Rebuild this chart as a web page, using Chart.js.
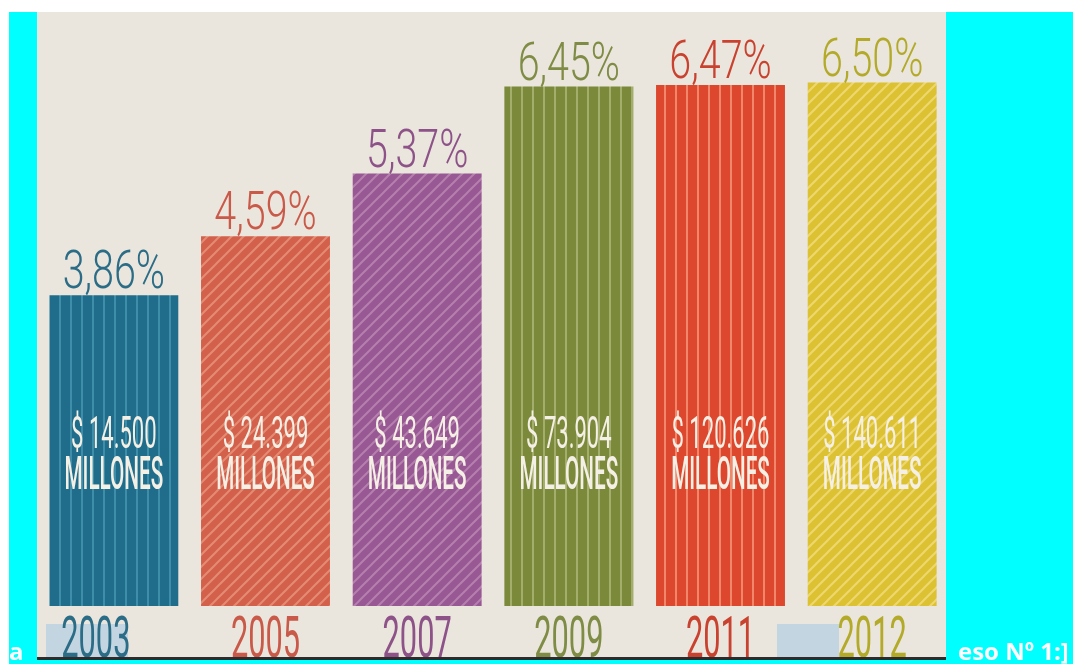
<!DOCTYPE html>
<html>
<head>
<meta charset="utf-8">
<script src="https://cdn.jsdelivr.net/npm/chart.js@4"></script>
<style>
  html, body { margin: 0; padding: 0; background: #fff; }
  #wrap { position: relative; width: 1073px; height: 664px; }
</style>
</head>
<body>
<div id="wrap"><canvas id="chart" width="1073" height="664"></canvas></div>
<script>
// Daten
const years = ["2003", "2005", "2007", "2009", "2011", "2012"];
const percents = [3.86, 4.59, 5.37, 6.45, 6.47, 6.5];
const percentLabels = ["3,86%", "4,59%", "5,37%", "6,45%", "6,47%", "6,50%"];
const amountLabels = ["$ 14.500", "$ 24.399", "$ 43.649", "$ 73.904", "$ 120.626", "$ 140.611"];
const unitLabel = "MILLONES";

// Farben
const baseColors = ["#1f6d8b", "#d3604b", "#985893", "#7b893b", "#dc472d", "#dcc232"];
const stripeColors = ["#3f8ea9", "#e48b73", "#b57fae", "#a3ae6c", "#f0866a", "#eed770"];
const stripeTypes = ["v", "d", "d", "v", "v", "d"];
const textColors = ["#2b6c86", "#c95a4a", "#8d5288", "#7f8c45", "#c8422f", "#b3aa2a"];

function makePattern(base, stripe, type) {
  const c = document.createElement("canvas");
  const s = type === "v" ? 11 : 12;
  c.width = s;
  c.height = s;
  const g = c.getContext("2d");
  g.fillStyle = base;
  g.fillRect(0, 0, s, s);
  g.strokeStyle = stripe;
  g.lineWidth = 2;
  if (type === "v") {
    g.beginPath();
    g.moveTo(5, 0);
    g.lineTo(5, s);
    g.stroke();
  } else {
    g.beginPath();
    g.moveTo(-2, s + 2); g.lineTo(s + 2, -2);
    g.moveTo(-2, 2); g.lineTo(2, -2);
    g.moveTo(s - 2, s + 2); g.lineTo(s + 2, s - 2);
    g.stroke();
  }
  return g.createPattern(c, "repeat");
}

const patterns = baseColors.map((b, i) => makePattern(b, stripeColors[i], stripeTypes[i]));

function condensedText(ctx, text, x, y, font, sx, color) {
  ctx.save();
  ctx.translate(x, y);
  ctx.scale(sx, 1);
  ctx.font = font;
  ctx.fillStyle = color;
  ctx.textAlign = "center";
  ctx.textBaseline = "alphabetic";
  ctx.fillText(text, 0, 0);
  ctx.restore();
}

// Hintergrund: Rahmen und Papier
const backgroundPlugin = {
  id: "paper",
  beforeDraw(chart) {
    const ctx = chart.ctx;
    ctx.save();
    ctx.fillStyle = "#ffffff";
    ctx.fillRect(0, 0, 1073, 664);
    ctx.fillStyle = "#00ffff";
    ctx.fillRect(9, 12, 1064, 652);
    ctx.fillStyle = "#ebe6dd";
    ctx.fillRect(37, 12, 909, 645);
    ctx.fillStyle = "#c3d5e1";
    ctx.fillRect(46, 624, 82, 33);
    ctx.fillRect(777, 624, 62, 33);
    ctx.restore();
  },
};

// Beschriftungen
const labelPlugin = {
  id: "labels",
  afterDatasetsDraw(chart) {
    const ctx = chart.ctx;
    const meta = chart.getDatasetMeta(0);
    meta.data.forEach((bar, i) => {
      const x = bar.x;
      const yearShift = i === 0 ? -18 : 0; // 2003 steht im Original etwas links
      condensedText(ctx, percentLabels[i], x, bar.y - 7, "300 54px Roboto", 0.73, textColors[i]);
      condensedText(ctx, amountLabels[i], x, bar.base - 158, "400 45px Roboto", 0.49, "#f5f0e6");
      condensedText(ctx, unitLabel, x, bar.base - 117, "500 47px Roboto", 0.44, "#f5f0e6");
      condensedText(ctx, years[i], x + yearShift, bar.base + 51, "400 57px Roboto", 0.54, textColors[i]);
    });
    ctx.save();
    ctx.fillStyle = "#00ffff";
    ctx.fillRect(37, 660, 909, 4);
    ctx.fillStyle = "#2c2c2c";
    ctx.fillRect(37, 657, 909, 3);
    ctx.fillStyle = "#ffffff";
    ctx.font = "bold 24px 'Open Sans'";
    ctx.textAlign = "left";
    ctx.fillText("a", 9, 660);
    ctx.fillText("eso Nº 1:]", 958, 660);
    ctx.restore();
  },
};

new Chart(document.getElementById("chart"), {
  type: "bar",
  data: {
    labels: years,
    datasets: [
      {
        data: percents,
        backgroundColor: patterns,
        borderWidth: 0,
        barPercentage: 0.85,
        categoryPercentage: 1,
      },
    ],
  },
  options: {
    responsive: false,
    animation: false,
    layout: { padding: { left: 38, right: 125, top: 2, bottom: 58 } },
    scales: {
      x: { display: false },
      y: { display: false, min: 0, max: 7.5 },
    },
    plugins: {
      legend: { display: false },
      tooltip: { enabled: false },
    },
  },
  plugins: [backgroundPlugin, labelPlugin],
});
</script>
</body>
</html>
